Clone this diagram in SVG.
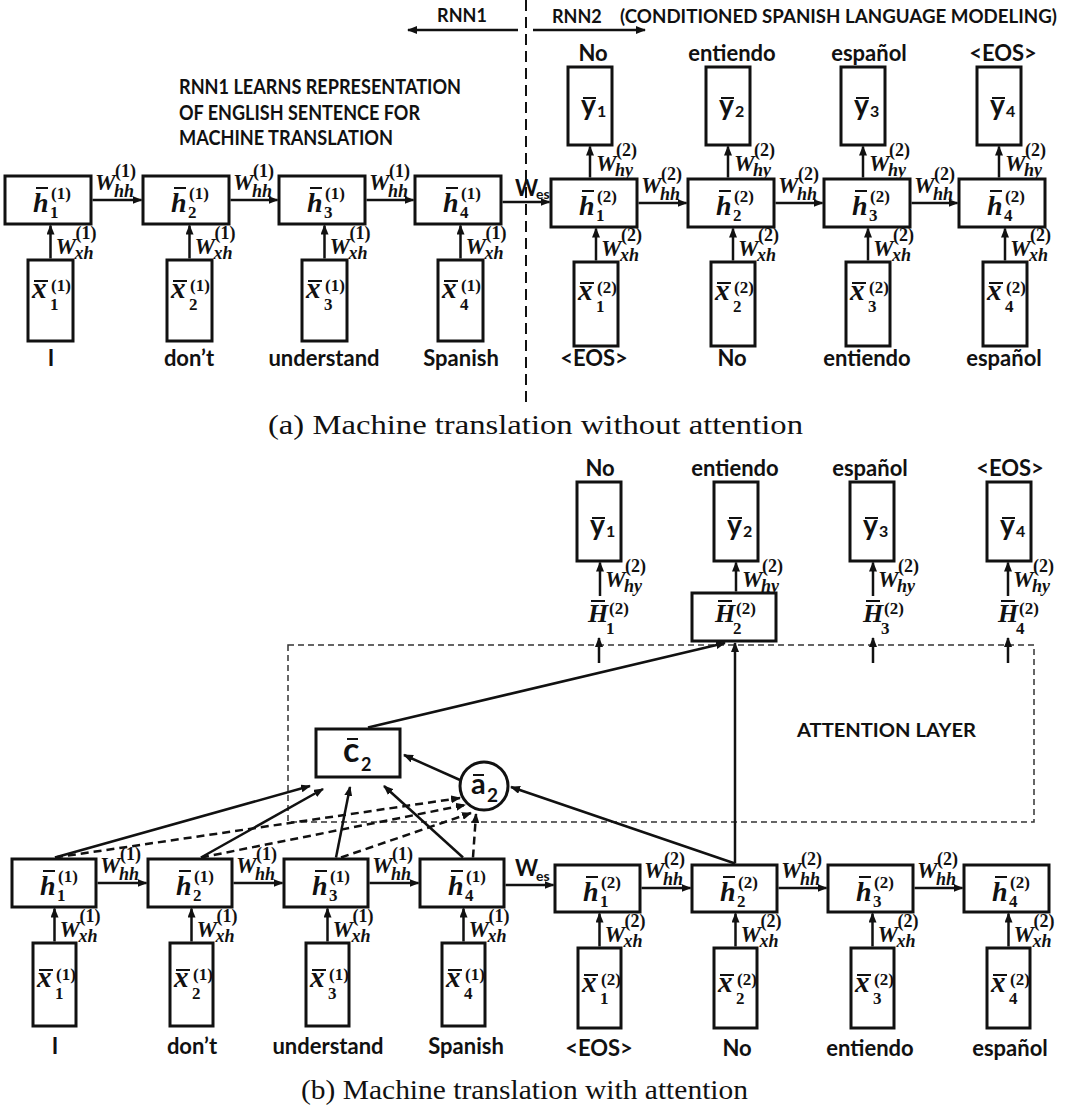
<svg xmlns="http://www.w3.org/2000/svg" width="1065" height="1107" viewBox="0 0 1065 1107">
<defs>
<style>
.box{fill:#fff;stroke:#111;stroke-width:3}
.m{font-family:"Liberation Serif","DejaVu Serif",serif;font-weight:bold;font-style:italic;fill:#111}
.hb{font-size:28px}
.xb{font-size:29px}
.hH{font-size:26px}
.wb{font-size:23px}
.sc{font-size:18px}
.sh{font-size:17px}
.up{font-style:normal}
.s{font-family:Lato,"Open Sans","Liberation Sans",sans-serif;font-weight:bold;fill:#111}
.wd{font-size:22px;text-anchor:middle}
.yb{font-size:28px}
.ys{font-size:16px}
.ol{stroke:#111;stroke-width:2}
.ar{stroke:#111;stroke-width:2.5;fill:none;marker-end:url(#ah)}
.da{stroke-dasharray:8 5}
.cap{font-family:"Liberation Serif","DejaVu Serif",serif;font-size:27px;fill:#111}
</style>
<marker id="ah" viewBox="0 0 10 8" refX="9" refY="4" markerWidth="10" markerHeight="8" markerUnits="userSpaceOnUse" orient="auto"><path d="M0,0 L10,4 L0,8 z" fill="#111"/></marker>
</defs>
<rect width="1065" height="1107" fill="#fff"/>

<g id="headings">
<text class="s" x="462" y="22" font-size="18" text-anchor="middle">RNN1</text>
<text class="s" x="552" y="23" font-size="18">RNN2</text>
<text class="s" x="620" y="23" font-size="18" textLength="437" lengthAdjust="spacingAndGlyphs">(CONDITIONED SPANISH LANGUAGE MODELING)</text>
<text class="s" x="179" y="94" font-size="20" textLength="282" lengthAdjust="spacingAndGlyphs">RNN1 LEARNS REPRESENTATION</text>
<text class="s" x="179" y="120" font-size="20" textLength="241" lengthAdjust="spacingAndGlyphs">OF ENGLISH SENTENCE FOR</text>
<text class="s" x="179" y="145" font-size="20" textLength="214" lengthAdjust="spacingAndGlyphs">MACHINE TRANSLATION</text>
<text class="cap" x="268" y="434" textLength="535" lengthAdjust="spacingAndGlyphs">(a) Machine translation without attention</text>
<text class="cap" x="301" y="1099" textLength="447" lengthAdjust="spacingAndGlyphs">(b) Machine translation with attention</text>
</g>

<g id="connectors">
<line x1="526" y1="0" x2="526" y2="402" stroke="#111" stroke-width="2" stroke-dasharray="11 6"/>
<line class="ar" x1="518" y1="30" x2="408" y2="30"/>
<line class="ar" x1="533" y1="30" x2="645" y2="30"/>
<line class="ar" x1="92.5" y1="200" x2="141.5" y2="200"/>
<line class="ar" x1="230.5" y1="200" x2="277.5" y2="200"/>
<line class="ar" x1="366.5" y1="200" x2="413.5" y2="200"/>
<line class="ar" x1="502.5" y1="202" x2="549.5" y2="202"/>
<line class="ar" x1="638.5" y1="203" x2="686.5" y2="203"/>
<line class="ar" x1="775.5" y1="203" x2="822.5" y2="203"/>
<line class="ar" x1="911.5" y1="203" x2="957.5" y2="203"/>
<line class="ar" x1="50.5" y1="258.5" x2="50.5" y2="225.5"/>
<line class="ar" x1="189.5" y1="258.5" x2="189.5" y2="225.5"/>
<line class="ar" x1="324.5" y1="258.5" x2="324.5" y2="225.5"/>
<line class="ar" x1="460.5" y1="258.5" x2="460.5" y2="225.5"/>
<line class="ar" x1="596" y1="260.5" x2="596" y2="228.5"/>
<line class="ar" x1="733" y1="260.5" x2="733" y2="228.5"/>
<line class="ar" x1="868" y1="260.5" x2="868" y2="228.5"/>
<line class="ar" x1="1005" y1="260.5" x2="1005" y2="228.5"/>
<line class="ar" x1="590" y1="177.5" x2="590" y2="146.5"/>
<line class="ar" x1="728" y1="177.5" x2="728" y2="146.5"/>
<line class="ar" x1="863" y1="177.5" x2="863" y2="146.5"/>
<line class="ar" x1="999" y1="177.5" x2="999" y2="146.5"/>
<text class="m"><tspan class="wb" x="95" y="190">W</tspan><tspan class="sc up" x="115" y="177">(1)</tspan><tspan class="sc" x="114" y="197">hh</tspan></text>
<text class="m"><tspan class="wb" x="233" y="190">W</tspan><tspan class="sc up" x="253" y="177">(1)</tspan><tspan class="sc" x="252" y="197">hh</tspan></text>
<text class="m"><tspan class="wb" x="369" y="190">W</tspan><tspan class="sc up" x="389" y="177">(1)</tspan><tspan class="sc" x="388" y="197">hh</tspan></text>
<text class="m"><tspan class="wb" x="55.5" y="254">W</tspan><tspan class="sc up" x="75.5" y="239">(1)</tspan><tspan class="sc" x="74.5" y="259">xh</tspan></text>
<text class="m"><tspan class="wb" x="194.5" y="254">W</tspan><tspan class="sc up" x="214.5" y="239">(1)</tspan><tspan class="sc" x="213.5" y="259">xh</tspan></text>
<text class="m"><tspan class="wb" x="329.5" y="254">W</tspan><tspan class="sc up" x="349.5" y="239">(1)</tspan><tspan class="sc" x="348.5" y="259">xh</tspan></text>
<text class="m"><tspan class="wb" x="465.5" y="254">W</tspan><tspan class="sc up" x="485.5" y="239">(1)</tspan><tspan class="sc" x="484.5" y="259">xh</tspan></text>
<text class="s"><tspan x="515" y="196" font-size="22">W</tspan><tspan x="536" y="199" font-size="14">es</tspan></text>
<text class="m"><tspan class="wb" x="641" y="193">W</tspan><tspan class="sc up" x="661" y="180">(2)</tspan><tspan class="sc" x="660" y="200">hh</tspan></text>
<text class="m"><tspan class="wb" x="778" y="193">W</tspan><tspan class="sc up" x="798" y="180">(2)</tspan><tspan class="sc" x="797" y="200">hh</tspan></text>
<text class="m"><tspan class="wb" x="914" y="193">W</tspan><tspan class="sc up" x="934" y="180">(2)</tspan><tspan class="sc" x="933" y="200">hh</tspan></text>
<text class="m"><tspan class="wb" x="601" y="256">W</tspan><tspan class="sc up" x="621" y="241">(2)</tspan><tspan class="sc" x="620" y="261">xh</tspan></text>
<text class="m"><tspan class="wb" x="738" y="256">W</tspan><tspan class="sc up" x="758" y="241">(2)</tspan><tspan class="sc" x="757" y="261">xh</tspan></text>
<text class="m"><tspan class="wb" x="873" y="256">W</tspan><tspan class="sc up" x="893" y="241">(2)</tspan><tspan class="sc" x="892" y="261">xh</tspan></text>
<text class="m"><tspan class="wb" x="1010" y="256">W</tspan><tspan class="sc up" x="1030" y="241">(2)</tspan><tspan class="sc" x="1029" y="261">xh</tspan></text>
<text class="m"><tspan class="wb" x="596" y="171">W</tspan><tspan class="sc up" x="616" y="156">(2)</tspan><tspan class="sc" x="615" y="176">hy</tspan></text>
<text class="m"><tspan class="wb" x="734" y="171">W</tspan><tspan class="sc up" x="754" y="156">(2)</tspan><tspan class="sc" x="753" y="176">hy</tspan></text>
<text class="m"><tspan class="wb" x="869" y="171">W</tspan><tspan class="sc up" x="889" y="156">(2)</tspan><tspan class="sc" x="888" y="176">hy</tspan></text>
<text class="m"><tspan class="wb" x="1005" y="171">W</tspan><tspan class="sc up" x="1025" y="156">(2)</tspan><tspan class="sc" x="1024" y="176">hy</tspan></text>

<rect x="288" y="645" width="746" height="177" fill="none" stroke="#333" stroke-width="1.5" stroke-dasharray="6 4"/>
<line class="ar" x1="97.5" y1="883" x2="146.5" y2="883"/>
<line class="ar" x1="233.5" y1="883" x2="282.5" y2="883"/>
<line class="ar" x1="369.5" y1="883" x2="418.5" y2="883"/>
<line class="ar" x1="505.5" y1="885" x2="553.5" y2="885"/>
<line class="ar" x1="641.5" y1="888" x2="690.5" y2="888"/>
<line class="ar" x1="778.5" y1="888" x2="826.5" y2="888"/>
<line class="ar" x1="914.5" y1="888" x2="962.5" y2="888"/>
<line class="ar" x1="54.5" y1="941.5" x2="54.5" y2="908.5"/>
<line class="ar" x1="191.5" y1="941.5" x2="191.5" y2="908.5"/>
<line class="ar" x1="327.5" y1="941.5" x2="327.5" y2="908.5"/>
<line class="ar" x1="463.5" y1="941.5" x2="463.5" y2="908.5"/>
<line class="ar" x1="599.5" y1="946.5" x2="599.5" y2="913.5"/>
<line class="ar" x1="735.5" y1="946.5" x2="735.5" y2="913.5"/>
<line class="ar" x1="872.5" y1="946.5" x2="872.5" y2="913.5"/>
<line class="ar" x1="1008.5" y1="946.5" x2="1008.5" y2="913.5"/>
<line class="ar" x1="600" y1="596" x2="600" y2="562.5"/>
<line class="ar" x1="736" y1="591.5" x2="736" y2="562.5"/>
<line class="ar" x1="873" y1="596" x2="873" y2="562.5"/>
<line class="ar" x1="1008" y1="596" x2="1008" y2="562.5"/>
<line class="ar" x1="599" y1="663" x2="599" y2="638"/>
<line class="ar" x1="873" y1="663" x2="873" y2="638"/>
<line class="ar" x1="1008" y1="663" x2="1008" y2="638"/>
<line class="ar" x1="735" y1="863.5" x2="735" y2="643"/>
<line class="ar" x1="368" y1="727.5" x2="725" y2="643"/>
<line class="ar" x1="735" y1="863.5" x2="511" y2="787"/>
<line class="ar" x1="460" y1="780" x2="404" y2="755"/>
<line class="ar" x1="55" y1="857.5" x2="310" y2="786"/>
<line class="ar" x1="201" y1="857.5" x2="323" y2="789"/>
<line class="ar" x1="336" y1="857.5" x2="350" y2="787"/>
<line class="ar" x1="463" y1="857.5" x2="384" y2="786"/>
<line class="ar da" x1="55" y1="857.5" x2="460" y2="798"/>
<line class="ar da" x1="201" y1="857.5" x2="465" y2="805"/>
<line class="ar da" x1="341" y1="857.5" x2="471" y2="813"/>
<line class="ar da" x1="473" y1="857.5" x2="476" y2="814"/>
<text class="m"><tspan class="wb" x="605" y="587">W</tspan><tspan class="sc up" x="625" y="572">(2)</tspan><tspan class="sc" x="624" y="592">hy</tspan></text>
<text class="m"><tspan class="wb" x="742" y="587">W</tspan><tspan class="sc up" x="762" y="572">(2)</tspan><tspan class="sc" x="761" y="592">hy</tspan></text>
<text class="m"><tspan class="wb" x="878" y="587">W</tspan><tspan class="sc up" x="898" y="572">(2)</tspan><tspan class="sc" x="897" y="592">hy</tspan></text>
<text class="m"><tspan class="wb" x="1013" y="587">W</tspan><tspan class="sc up" x="1033" y="572">(2)</tspan><tspan class="sc" x="1032" y="592">hy</tspan></text>
<text class="m"><tspan class="wb" x="100" y="873">W</tspan><tspan class="sc up" x="120" y="860">(1)</tspan><tspan class="sc" x="119" y="880">hh</tspan></text>
<text class="m"><tspan class="wb" x="236" y="873">W</tspan><tspan class="sc up" x="256" y="860">(1)</tspan><tspan class="sc" x="255" y="880">hh</tspan></text>
<text class="m"><tspan class="wb" x="372" y="873">W</tspan><tspan class="sc up" x="392" y="860">(1)</tspan><tspan class="sc" x="391" y="880">hh</tspan></text>
<text class="m"><tspan class="wb" x="59.5" y="937">W</tspan><tspan class="sc up" x="79.5" y="922">(1)</tspan><tspan class="sc" x="78.5" y="942">xh</tspan></text>
<text class="m"><tspan class="wb" x="196.5" y="937">W</tspan><tspan class="sc up" x="216.5" y="922">(1)</tspan><tspan class="sc" x="215.5" y="942">xh</tspan></text>
<text class="m"><tspan class="wb" x="332.5" y="937">W</tspan><tspan class="sc up" x="352.5" y="922">(1)</tspan><tspan class="sc" x="351.5" y="942">xh</tspan></text>
<text class="m"><tspan class="wb" x="468.5" y="937">W</tspan><tspan class="sc up" x="488.5" y="922">(1)</tspan><tspan class="sc" x="487.5" y="942">xh</tspan></text>
<text class="s"><tspan x="515" y="876" font-size="22">W</tspan><tspan x="536" y="881" font-size="14">es</tspan></text>
<text class="m"><tspan class="wb" x="644" y="878">W</tspan><tspan class="sc up" x="664" y="865">(2)</tspan><tspan class="sc" x="663" y="885">hh</tspan></text>
<text class="m"><tspan class="wb" x="781" y="878">W</tspan><tspan class="sc up" x="801" y="865">(2)</tspan><tspan class="sc" x="800" y="885">hh</tspan></text>
<text class="m"><tspan class="wb" x="917" y="878">W</tspan><tspan class="sc up" x="937" y="865">(2)</tspan><tspan class="sc" x="936" y="885">hh</tspan></text>
<text class="m"><tspan class="wb" x="604.5" y="942">W</tspan><tspan class="sc up" x="624.5" y="927">(2)</tspan><tspan class="sc" x="623.5" y="947">xh</tspan></text>
<text class="m"><tspan class="wb" x="740.5" y="942">W</tspan><tspan class="sc up" x="760.5" y="927">(2)</tspan><tspan class="sc" x="759.5" y="947">xh</tspan></text>
<text class="m"><tspan class="wb" x="877.5" y="942">W</tspan><tspan class="sc up" x="897.5" y="927">(2)</tspan><tspan class="sc" x="896.5" y="947">xh</tspan></text>
<text class="m"><tspan class="wb" x="1013.5" y="942">W</tspan><tspan class="sc up" x="1033.5" y="927">(2)</tspan><tspan class="sc" x="1032.5" y="947">xh</tspan></text>
<text class="s" x="797" y="737" font-size="19" textLength="179" lengthAdjust="spacingAndGlyphs">ATTENTION LAYER</text>
</g>

<g id="a_h1_1"><rect class="box" x="5" y="176" width="86" height="48"/><line class="ol" x1="36" y1="188" x2="48" y2="188"/><text class="m"><tspan class="hb" x="33" y="212">h</tspan><tspan class="sh up" x="51" y="199">(1)</tspan><tspan class="sh up" x="50" y="218">1</tspan></text></g>
<g id="a_h2_1"><rect class="box" x="143" y="176" width="86" height="48"/><line class="ol" x1="174" y1="188" x2="186" y2="188"/><text class="m"><tspan class="hb" x="171" y="212">h</tspan><tspan class="sh up" x="189" y="199">(1)</tspan><tspan class="sh up" x="188" y="218">2</tspan></text></g>
<g id="a_h3_1"><rect class="box" x="279" y="176" width="86" height="48"/><line class="ol" x1="310" y1="188" x2="322" y2="188"/><text class="m"><tspan class="hb" x="307" y="212">h</tspan><tspan class="sh up" x="325" y="199">(1)</tspan><tspan class="sh up" x="324" y="218">3</tspan></text></g>
<g id="a_h4_1"><rect class="box" x="415" y="176" width="86" height="48"/><line class="ol" x1="446" y1="188" x2="458" y2="188"/><text class="m"><tspan class="hb" x="443" y="212">h</tspan><tspan class="sh up" x="461" y="199">(1)</tspan><tspan class="sh up" x="460" y="218">4</tspan></text></g>

<g id="a_x1_1"><rect class="box" x="28" y="260" width="45" height="81"/><line class="ol" x1="34" y1="281" x2="48" y2="281"/><text class="m"><tspan class="xb" x="32" y="298">x</tspan><tspan class="sh up" x="51" y="291">(1)</tspan><tspan class="sh up" x="50" y="310">1</tspan></text><text class="s wd" x="51" y="366">I</text></g>
<g id="a_x2_1"><rect class="box" x="167" y="260" width="45" height="81"/><line class="ol" x1="173" y1="281" x2="187" y2="281"/><text class="m"><tspan class="xb" x="171" y="298">x</tspan><tspan class="sh up" x="190" y="291">(1)</tspan><tspan class="sh up" x="189" y="310">2</tspan></text><text class="s wd" x="189" y="366">don’t</text></g>
<g id="a_x3_1"><rect class="box" x="302" y="260" width="45" height="81"/><line class="ol" x1="308" y1="281" x2="322" y2="281"/><text class="m"><tspan class="xb" x="306" y="298">x</tspan><tspan class="sh up" x="325" y="291">(1)</tspan><tspan class="sh up" x="324" y="310">3</tspan></text><text class="s wd" x="324" y="366">understand</text></g>
<g id="a_x4_1"><rect class="box" x="438" y="260" width="45" height="81"/><line class="ol" x1="444" y1="281" x2="458" y2="281"/><text class="m"><tspan class="xb" x="442" y="298">x</tspan><tspan class="sh up" x="461" y="291">(1)</tspan><tspan class="sh up" x="460" y="310">4</tspan></text><text class="s wd" x="461" y="366">Spanish</text></g>

<g id="a_h1_2"><rect class="box" x="551" y="179" width="86" height="48"/><line class="ol" x1="582" y1="191" x2="594" y2="191"/><text class="m"><tspan class="hb" x="579" y="215">h</tspan><tspan class="sh up" x="597" y="202">(2)</tspan><tspan class="sh up" x="596" y="221">1</tspan></text></g>
<g id="a_h2_2"><rect class="box" x="688" y="179" width="86" height="48"/><line class="ol" x1="719" y1="191" x2="731" y2="191"/><text class="m"><tspan class="hb" x="716" y="215">h</tspan><tspan class="sh up" x="734" y="202">(2)</tspan><tspan class="sh up" x="733" y="221">2</tspan></text></g>
<g id="a_h3_2"><rect class="box" x="824" y="179" width="86" height="48"/><line class="ol" x1="855" y1="191" x2="867" y2="191"/><text class="m"><tspan class="hb" x="852" y="215">h</tspan><tspan class="sh up" x="870" y="202">(2)</tspan><tspan class="sh up" x="869" y="221">3</tspan></text></g>
<g id="a_h4_2"><rect class="box" x="959" y="179" width="86" height="48"/><line class="ol" x1="990" y1="191" x2="1002" y2="191"/><text class="m"><tspan class="hb" x="987" y="215">h</tspan><tspan class="sh up" x="1005" y="202">(2)</tspan><tspan class="sh up" x="1004" y="221">4</tspan></text></g>

<g id="a_x1_2"><rect class="box" x="574" y="262" width="44" height="84"/><line class="ol" x1="580" y1="283" x2="594" y2="283"/><text class="m"><tspan class="xb" x="578" y="300">x</tspan><tspan class="sh up" x="597" y="293">(2)</tspan><tspan class="sh up" x="596" y="312">1</tspan></text><text class="s wd" x="594" y="366">&lt;EOS&gt;</text></g>
<g id="a_x2_2"><rect class="box" x="711" y="262" width="44" height="84"/><line class="ol" x1="717" y1="283" x2="731" y2="283"/><text class="m"><tspan class="xb" x="715" y="300">x</tspan><tspan class="sh up" x="734" y="293">(2)</tspan><tspan class="sh up" x="733" y="312">2</tspan></text><text class="s wd" x="732" y="366">No</text></g>
<g id="a_x3_2"><rect class="box" x="846" y="262" width="44" height="84"/><line class="ol" x1="852" y1="283" x2="866" y2="283"/><text class="m"><tspan class="xb" x="850" y="300">x</tspan><tspan class="sh up" x="869" y="293">(2)</tspan><tspan class="sh up" x="868" y="312">3</tspan></text><text class="s wd" x="867" y="366">entiendo</text></g>
<g id="a_x4_2"><rect class="box" x="983" y="262" width="44" height="84"/><line class="ol" x1="989" y1="283" x2="1003" y2="283"/><text class="m"><tspan class="xb" x="987" y="300">x</tspan><tspan class="sh up" x="1006" y="293">(2)</tspan><tspan class="sh up" x="1005" y="312">4</tspan></text><text class="s wd" x="1004" y="366">español</text></g>

<g id="a_y1"><rect class="box" x="568" y="67" width="44" height="78"/><line class="ol" x1="583" y1="98" x2="596" y2="98"/><text class="s"><tspan class="yb" x="581" y="115">y</tspan><tspan class="ys" x="597" y="117">1</tspan></text><text class="s wd" x="593" y="61">No</text></g>
<g id="a_y2"><rect class="box" x="706" y="67" width="44" height="78"/><line class="ol" x1="721" y1="98" x2="734" y2="98"/><text class="s"><tspan class="yb" x="719" y="115">y</tspan><tspan class="ys" x="735" y="117">2</tspan></text><text class="s wd" x="732" y="61">entiendo</text></g>
<g id="a_y3"><rect class="box" x="841" y="67" width="44" height="78"/><line class="ol" x1="856" y1="98" x2="869" y2="98"/><text class="s"><tspan class="yb" x="854" y="115">y</tspan><tspan class="ys" x="870" y="117">3</tspan></text><text class="s wd" x="869" y="61">español</text></g>
<g id="a_y4"><rect class="box" x="977" y="67" width="44" height="78"/><line class="ol" x1="992" y1="98" x2="1005" y2="98"/><text class="s"><tspan class="yb" x="990" y="115">y</tspan><tspan class="ys" x="1006" y="117">4</tspan></text><text class="s wd" x="1003" y="61">&lt;EOS&gt;</text></g>

<g id="b_y1"><rect class="box" x="577" y="482" width="44" height="79"/><line class="ol" x1="592" y1="518" x2="605" y2="518"/><text class="s"><tspan class="yb" x="590" y="535">y</tspan><tspan class="ys" x="606" y="537">1</tspan></text><text class="s wd" x="600" y="476">No</text></g>
<g id="b_y2"><rect class="box" x="714" y="482" width="44" height="79"/><line class="ol" x1="729" y1="518" x2="742" y2="518"/><text class="s"><tspan class="yb" x="727" y="535">y</tspan><tspan class="ys" x="743" y="537">2</tspan></text><text class="s wd" x="735" y="476">entiendo</text></g>
<g id="b_y3"><rect class="box" x="850" y="482" width="44" height="79"/><line class="ol" x1="865" y1="518" x2="878" y2="518"/><text class="s"><tspan class="yb" x="863" y="535">y</tspan><tspan class="ys" x="879" y="537">3</tspan></text><text class="s wd" x="870" y="476">español</text></g>
<g id="b_y4"><rect class="box" x="987" y="482" width="44" height="79"/><line class="ol" x1="1002" y1="518" x2="1015" y2="518"/><text class="s"><tspan class="yb" x="1000" y="535">y</tspan><tspan class="ys" x="1016" y="537">4</tspan></text><text class="s wd" x="1010" y="476">&lt;EOS&gt;</text></g>

<g id="b_H1"><line class="ol" x1="591" y1="601" x2="605" y2="601"/><text class="m"><tspan class="hH" x="588" y="622">H</tspan><tspan class="sh up" x="609" y="614">(2)</tspan><tspan class="sh up" x="606" y="634">1</tspan></text></g>
<g id="b_H2"><rect class="box" x="692" y="593" width="84" height="48"/><line class="ol" x1="718" y1="601" x2="732" y2="601"/><text class="m"><tspan class="hH" x="715" y="622">H</tspan><tspan class="sh up" x="736" y="614">(2)</tspan><tspan class="sh up" x="733" y="634">2</tspan></text></g>
<g id="b_H3"><line class="ol" x1="866" y1="601" x2="880" y2="601"/><text class="m"><tspan class="hH" x="863" y="622">H</tspan><tspan class="sh up" x="884" y="614">(2)</tspan><tspan class="sh up" x="881" y="634">3</tspan></text></g>
<g id="b_H4"><line class="ol" x1="1001" y1="601" x2="1015" y2="601"/><text class="m"><tspan class="hH" x="998" y="622">H</tspan><tspan class="sh up" x="1019" y="614">(2)</tspan><tspan class="sh up" x="1016" y="634">4</tspan></text></g>

<g id="b_c2"><rect class="box" x="316" y="729" width="84" height="48"/><line class="ol" x1="347" y1="739" x2="358" y2="739"/><text class="s"><tspan x="343" y="762" font-size="34">c</tspan><tspan x="361" y="771" font-size="18">2</tspan></text></g>
<g id="b_a2"><circle cx="484" cy="786" r="24" fill="#fff" stroke="#111" stroke-width="3"/><line class="ol" x1="473" y1="775" x2="484" y2="775"/><text class="s"><tspan x="471" y="794" font-size="29">a</tspan><tspan x="487" y="802" font-size="19">2</tspan></text></g>

<g id="b_h1_1"><rect class="box" x="12" y="859" width="84" height="48"/><line class="ol" x1="43" y1="871" x2="55" y2="871"/><text class="m"><tspan class="hb" x="40" y="895">h</tspan><tspan class="sh up" x="58" y="882">(1)</tspan><tspan class="sh up" x="57" y="901">1</tspan></text></g>
<g id="b_h2_1"><rect class="box" x="148" y="859" width="84" height="48"/><line class="ol" x1="179" y1="871" x2="191" y2="871"/><text class="m"><tspan class="hb" x="176" y="895">h</tspan><tspan class="sh up" x="194" y="882">(1)</tspan><tspan class="sh up" x="193" y="901">2</tspan></text></g>
<g id="b_h3_1"><rect class="box" x="284" y="859" width="84" height="48"/><line class="ol" x1="315" y1="871" x2="327" y2="871"/><text class="m"><tspan class="hb" x="312" y="895">h</tspan><tspan class="sh up" x="330" y="882">(1)</tspan><tspan class="sh up" x="329" y="901">3</tspan></text></g>
<g id="b_h4_1"><rect class="box" x="420" y="859" width="84" height="48"/><line class="ol" x1="451" y1="871" x2="463" y2="871"/><text class="m"><tspan class="hb" x="448" y="895">h</tspan><tspan class="sh up" x="466" y="882">(1)</tspan><tspan class="sh up" x="465" y="901">4</tspan></text></g>

<g id="b_x1_1"><rect class="box" x="33" y="943" width="43" height="83"/><line class="ol" x1="39" y1="970" x2="53" y2="970"/><text class="m"><tspan class="xb" x="37" y="987">x</tspan><tspan class="sh up" x="56" y="980">(1)</tspan><tspan class="sh up" x="55" y="999">1</tspan></text><text class="s wd" x="55" y="1054">I</text></g>
<g id="b_x2_1"><rect class="box" x="170" y="943" width="43" height="83"/><line class="ol" x1="176" y1="970" x2="190" y2="970"/><text class="m"><tspan class="xb" x="174" y="987">x</tspan><tspan class="sh up" x="193" y="980">(1)</tspan><tspan class="sh up" x="192" y="999">2</tspan></text><text class="s wd" x="192" y="1054">don’t</text></g>
<g id="b_x3_1"><rect class="box" x="306" y="943" width="43" height="83"/><line class="ol" x1="312" y1="970" x2="326" y2="970"/><text class="m"><tspan class="xb" x="310" y="987">x</tspan><tspan class="sh up" x="329" y="980">(1)</tspan><tspan class="sh up" x="328" y="999">3</tspan></text><text class="s wd" x="328" y="1054">understand</text></g>
<g id="b_x4_1"><rect class="box" x="442" y="943" width="43" height="83"/><line class="ol" x1="448" y1="970" x2="462" y2="970"/><text class="m"><tspan class="xb" x="446" y="987">x</tspan><tspan class="sh up" x="465" y="980">(1)</tspan><tspan class="sh up" x="464" y="999">4</tspan></text><text class="s wd" x="466" y="1054">Spanish</text></g>

<g id="b_h1_2"><rect class="box" x="555" y="865" width="85" height="47"/><line class="ol" x1="586" y1="877" x2="598" y2="877"/><text class="m"><tspan class="hb" x="583" y="901">h</tspan><tspan class="sh up" x="601" y="888">(2)</tspan><tspan class="sh up" x="600" y="907">1</tspan></text></g>
<g id="b_h2_2"><rect class="box" x="692" y="865" width="85" height="47"/><line class="ol" x1="723" y1="877" x2="735" y2="877"/><text class="m"><tspan class="hb" x="720" y="901">h</tspan><tspan class="sh up" x="738" y="888">(2)</tspan><tspan class="sh up" x="737" y="907">2</tspan></text></g>
<g id="b_h3_2"><rect class="box" x="828" y="865" width="85" height="47"/><line class="ol" x1="859" y1="877" x2="871" y2="877"/><text class="m"><tspan class="hb" x="856" y="901">h</tspan><tspan class="sh up" x="874" y="888">(2)</tspan><tspan class="sh up" x="873" y="907">3</tspan></text></g>
<g id="b_h4_2"><rect class="box" x="964" y="865" width="85" height="47"/><line class="ol" x1="995" y1="877" x2="1007" y2="877"/><text class="m"><tspan class="hb" x="992" y="901">h</tspan><tspan class="sh up" x="1010" y="888">(2)</tspan><tspan class="sh up" x="1009" y="907">4</tspan></text></g>

<g id="b_x1_2"><rect class="box" x="578" y="948" width="43" height="80"/><line class="ol" x1="584" y1="975" x2="598" y2="975"/><text class="m"><tspan class="xb" x="582" y="992">x</tspan><tspan class="sh up" x="601" y="985">(2)</tspan><tspan class="sh up" x="600" y="1004">1</tspan></text><text class="s wd" x="599" y="1056">&lt;EOS&gt;</text></g>
<g id="b_x2_2"><rect class="box" x="714" y="948" width="43" height="80"/><line class="ol" x1="720" y1="975" x2="734" y2="975"/><text class="m"><tspan class="xb" x="718" y="992">x</tspan><tspan class="sh up" x="737" y="985">(2)</tspan><tspan class="sh up" x="736" y="1004">2</tspan></text><text class="s wd" x="737" y="1056">No</text></g>
<g id="b_x3_2"><rect class="box" x="851" y="948" width="43" height="80"/><line class="ol" x1="857" y1="975" x2="871" y2="975"/><text class="m"><tspan class="xb" x="855" y="992">x</tspan><tspan class="sh up" x="874" y="985">(2)</tspan><tspan class="sh up" x="873" y="1004">3</tspan></text><text class="s wd" x="870" y="1056">entiendo</text></g>
<g id="b_x4_2"><rect class="box" x="987" y="948" width="43" height="80"/><line class="ol" x1="993" y1="975" x2="1007" y2="975"/><text class="m"><tspan class="xb" x="991" y="992">x</tspan><tspan class="sh up" x="1010" y="985">(2)</tspan><tspan class="sh up" x="1009" y="1004">4</tspan></text><text class="s wd" x="1010" y="1056">español</text></g>
</svg>
